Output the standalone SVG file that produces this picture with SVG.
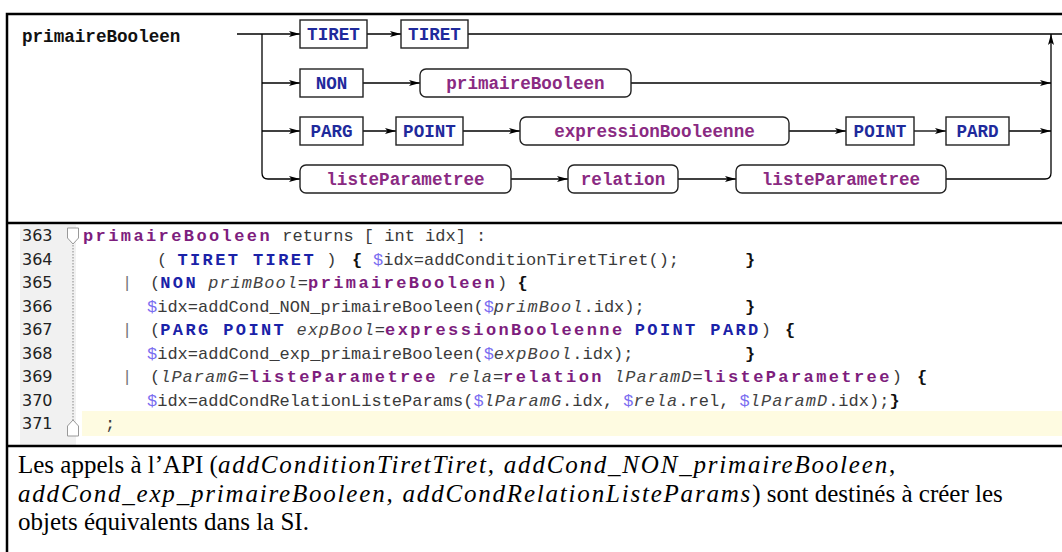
<svg xmlns="http://www.w3.org/2000/svg" width="1062" height="552" viewBox="0 0 1062 552">
<defs>
<marker id="ah" markerWidth="12" markerHeight="8" refX="11" refY="4" orient="auto" markerUnits="userSpaceOnUse"><path d="M0,1 L11,4 L0,7 L2.5,4 z" fill="#000"/></marker>
</defs>
<style>
.frame{stroke:#000;stroke-width:2.5;fill:none}
.ln{fill:none;stroke:#000;stroke-width:1.3}
.box{fill:#fff;stroke:#222;stroke-width:1.4}
.lbl{font-family:"Liberation Mono",monospace;font-weight:bold;font-size:17.6px;text-anchor:middle}
.tk{fill:#1f2a9c}
.nt{fill:#8a2a82}
.title{font-family:"Liberation Mono",monospace;font-weight:bold;font-size:17.6px;fill:#111}
.code{font-family:"Liberation Mono",monospace;font-size:17px;fill:#3a3a3a}
.b{font-weight:bold;letter-spacing:2.4px}
.kw{fill:#1a22a8}
.pu{fill:#7d1d7d}
.blk{fill:#111}
.it{font-style:italic;letter-spacing:1px;fill:#444}
.dl{fill:#7a6cf0}
.bar{fill:#777}
.num{font-family:"DejaVu Sans",sans-serif;font-size:16px;fill:#222}
.txt{font-family:"Liberation Serif",serif;font-size:25px;fill:#000}
.ti{font-style:italic;letter-spacing:1.8px}
</style>
<rect x="0" y="0" width="1062" height="552" fill="#fff"/>

<g id="frame">
<rect x="20" y="225" width="56" height="220" fill="#f1f1f1"/>
<rect x="82" y="411" width="980" height="25" fill="#fefbe1"/>
<path class="frame" d="M7,552 V14 H1062"/>
<path class="frame" d="M7,223 H1062 M7,446 H1062"/>
</g>

<g id="title"><text class="title" x="22" y="42">primaireBooleen</text></g>

<g id="connectors">
<path class="ln" d="M237,34 H300" marker-end="url(#ah)"/>
<path class="ln" d="M262,34 V173 Q262,179 268,179 H300" marker-end="url(#ah)"/>
<path class="ln" d="M262,83 H300" marker-end="url(#ah)"/>
<path class="ln" d="M262,131 H300" marker-end="url(#ah)"/>
<path class="ln" d="M367,34 H401" marker-end="url(#ah)"/>
<path class="ln" d="M468,34 H1062"/>
<path class="ln" d="M363,83 H420" marker-end="url(#ah)"/>
<path class="ln" d="M631,83 H1051" marker-end="url(#ah)"/>
<path class="ln" d="M363,131 H396" marker-end="url(#ah)"/>
<path class="ln" d="M463,131 H520" marker-end="url(#ah)"/>
<path class="ln" d="M789,131 H846" marker-end="url(#ah)"/>
<path class="ln" d="M914,131 H946" marker-end="url(#ah)"/>
<path class="ln" d="M1009,131 H1051" marker-end="url(#ah)"/>
<path class="ln" d="M511,179 H568" marker-end="url(#ah)"/>
<path class="ln" d="M678,179 H736" marker-end="url(#ah)"/>
<path class="ln" d="M946,179 H1045 Q1051,179 1051,173 V34" marker-end="url(#ah)"/>
</g>

<g id="n-tiret1"><rect class="box" x="300" y="20" width="67" height="28"/><text class="lbl tk" x="333.5" y="39.5">TIRET</text></g>
<g id="n-tiret2"><rect class="box" x="401" y="20" width="67" height="28"/><text class="lbl tk" x="434.5" y="39.5">TIRET</text></g>
<g id="n-non"><rect class="box" x="300" y="69" width="63" height="28"/><text class="lbl tk" x="331.5" y="88.5">NON</text></g>
<g id="n-primaire"><rect class="box" x="420" y="69" width="211" height="28" rx="6"/><text class="lbl nt" x="525.5" y="88.5">primaireBooleen</text></g>
<g id="n-parg"><rect class="box" x="300" y="117" width="63" height="28"/><text class="lbl tk" x="331.5" y="136.5">PARG</text></g>
<g id="n-point1"><rect class="box" x="396" y="117" width="67" height="28"/><text class="lbl tk" x="429.5" y="136.5">POINT</text></g>
<g id="n-expr"><rect class="box" x="520" y="117" width="269" height="28" rx="6"/><text class="lbl nt" x="654.5" y="136.5">expressionBooleenne</text></g>
<g id="n-point2"><rect class="box" x="846" y="117" width="68" height="28"/><text class="lbl tk" x="880" y="136.5">POINT</text></g>
<g id="n-pard"><rect class="box" x="946" y="117" width="63" height="28"/><text class="lbl tk" x="977.5" y="136.5">PARD</text></g>
<g id="n-liste1"><rect class="box" x="300" y="165" width="211" height="28" rx="6"/><text class="lbl nt" x="405.5" y="184.5">listeParametree</text></g>
<g id="n-relation"><rect class="box" x="568" y="165" width="110" height="28" rx="6"/><text class="lbl nt" x="623" y="184.5">relation</text></g>
<g id="n-liste2"><rect class="box" x="736" y="165" width="210" height="28" rx="6"/><text class="lbl nt" x="841" y="184.5">listeParametree</text></g>

<g id="gutter">
<line x1="73" y1="245" x2="73" y2="420" stroke="#888" stroke-width="1" stroke-dasharray="1.5,1.5"/>
<path d="M67.5,228 H78.5 V238 L73,244 L67.5,238 Z" fill="#fff" stroke="#999" stroke-width="1"/>
<path d="M67.5,436 H78.5 V426 L73,420 L67.5,426 Z" fill="#fff" stroke="#999" stroke-width="1"/>
<text class="num" x="22" y="241">363</text>
<text class="num" x="22" y="264.5">364</text>
<text class="num" x="22" y="288">365</text>
<text class="num" x="22" y="311.5">366</text>
<text class="num" x="22" y="335">367</text>
<text class="num" x="22" y="358.5">368</text>
<text class="num" x="22" y="382">369</text>
<text class="num" x="22" y="405.5">370</text>
<text class="num" x="22" y="429">371</text>
</g>

<g id="code" class="code">
<text x="83" y="241"><tspan class="b pu">primaireBooleen</tspan> returns [ int idx] :</text>
<text x="157" y="264.5">( <tspan class="b kw">TIRET TIRET</tspan> )</text>
<text x="352" y="264.5" class="b blk">{</text>
<text x="373" y="264.5"><tspan class="dl">$</tspan>idx=addConditionTiretTiret();</text>
<text x="745" y="264.5" class="b blk">}</text>
<text x="122" y="288" class="bar">|</text>
<text x="150" y="288">(<tspan class="b kw">NON</tspan> <tspan class="it">primBool</tspan>=<tspan class="b pu">primaireBooleen</tspan>) <tspan class="b blk">{</tspan></text>
<text x="147" y="311.5"><tspan class="dl">$</tspan>idx=addCond_NON_primaireBooleen(<tspan class="dl">$</tspan><tspan class="it">primBool</tspan>.idx);</text>
<text x="745" y="311.5" class="b blk">}</text>
<text x="122" y="335" class="bar">|</text>
<text x="150" y="335">(<tspan class="b kw">PARG POINT</tspan> <tspan class="it">expBool</tspan>=<tspan class="b pu">expressionBooleenne</tspan> <tspan class="b kw">POINT PARD</tspan>)</text>
<text x="785" y="335" class="b blk">{</text>
<text x="147" y="358.5"><tspan class="dl">$</tspan>idx=addCond_exp_primaireBooleen(<tspan class="dl">$</tspan><tspan class="it">expBool</tspan>.idx);</text>
<text x="745" y="358.5" class="b blk">}</text>
<text x="122" y="382" class="bar">|</text>
<text x="150" y="382">(<tspan class="it">lParamG</tspan>=<tspan class="b pu">listeParametree</tspan> <tspan class="it">rela</tspan>=<tspan class="b pu">relation</tspan> <tspan class="it">lParamD</tspan>=<tspan class="b pu">listeParametree</tspan>)</text>
<text x="917" y="382" class="b blk">{</text>
<text x="147" y="405.5"><tspan class="dl">$</tspan>idx=addCondRelationListeParams(<tspan class="dl">$</tspan><tspan class="it">lParamG</tspan>.idx, <tspan class="dl">$</tspan><tspan class="it">rela</tspan>.rel, <tspan class="dl">$</tspan><tspan class="it">lParamD</tspan>.idx);<tspan class="b blk">}</tspan></text>
<text x="105" y="429">;</text>
</g>

<g id="note" class="txt">
<text x="18" y="473">Les appels à l’API (<tspan class="ti">addConditionTiretTiret, addCond_NON_primaireBooleen</tspan>,</text>
<text x="18" y="502"><tspan class="ti">addCond_exp_primaireBooleen, addCondRelationListeParams</tspan>) sont destinés à créer les</text>
<text x="18" y="530">objets équivalents dans la SI.</text>
</g>
</svg>
